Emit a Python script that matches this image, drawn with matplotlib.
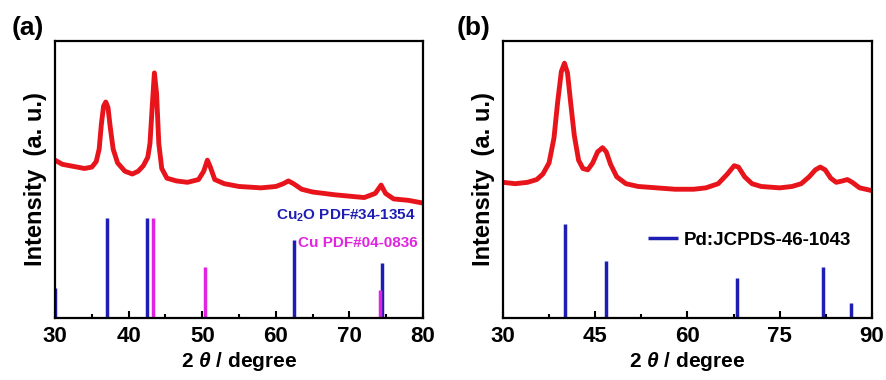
import matplotlib
matplotlib.use('Agg')
import matplotlib.pyplot as plt
from matplotlib.ticker import MultipleLocator

plt.rcParams['font.family'] = ['Liberation Sans', 'DejaVu Sans']
plt.rcParams['font.weight'] = 'bold'
plt.rcParams['mathtext.fontset'] = 'custom'
plt.rcParams['mathtext.bf'] = 'Liberation Sans:bold'
plt.rcParams['mathtext.rm'] = 'Liberation Sans:bold'
plt.rcParams['mathtext.it'] = 'Liberation Sans:bold:italic'

RED = '#e8141c'
BLUE = '#1e1eb4'
MAGENTA = '#e024e0'

# panel (a): measured pattern
a_theta = [30.0, 31.0, 32.0, 33.0, 34.0, 35.0, 35.6, 36.0, 36.3, 36.6, 36.9, 37.2,
           37.5, 37.9, 38.5, 39.5, 40.5, 41.3, 42.0, 42.6, 42.9, 43.2, 43.5, 43.8,
           44.1, 44.5, 45.2, 46.5, 48.0, 49.5, 50.2, 50.7, 51.1, 51.7, 53.0, 55.0,
           58.0, 60.0, 61.0, 61.7, 62.4, 63.5, 65.0, 68.0, 70.0, 72.0, 73.5, 74.3,
           74.9, 76.0, 78.0, 80.0]
a_int = [0.57, 0.555, 0.55, 0.545, 0.54, 0.545, 0.565, 0.61, 0.70, 0.765, 0.78, 0.76,
         0.69, 0.61, 0.56, 0.53, 0.52, 0.53, 0.55, 0.58, 0.63, 0.76, 0.885, 0.81,
         0.63, 0.54, 0.505, 0.495, 0.49, 0.50, 0.53, 0.57, 0.545, 0.50, 0.485, 0.475,
         0.47, 0.475, 0.485, 0.495, 0.485, 0.465, 0.455, 0.445, 0.44, 0.435, 0.45, 0.48,
         0.45, 0.43, 0.425, 0.415]

# reference cards (a)
cu2o_pos = [30.0, 37.0, 42.5, 62.4, 74.4]
cu2o_h = [0.11, 0.36, 0.36, 0.28, 0.20]
cu_pos = [43.3, 50.4, 74.1]
cu_h = [0.36, 0.185, 0.10]

# panel (b): measured pattern
b_theta = [30, 32, 34, 35.5, 36.5, 37.5, 38.3, 38.9, 39.5, 40.0, 40.5, 41.0, 41.6,
           42.3, 43.0, 43.8, 44.6, 45.4, 46.2, 46.8, 47.5, 48.5, 50, 52, 55, 58, 61,
           63, 65, 66.5, 67.6, 68.3, 69.3, 70.5, 72, 75, 77, 78.5, 79.8, 80.8, 81.6,
           82.4, 83.3, 84.2, 85.2, 86.0, 86.8, 88, 90]
b_int = [0.49, 0.485, 0.49, 0.50, 0.52, 0.56, 0.65, 0.78, 0.89, 0.92, 0.885, 0.78, 0.66,
         0.57, 0.54, 0.535, 0.56, 0.60, 0.615, 0.60, 0.555, 0.51, 0.485, 0.475, 0.47,
         0.465, 0.465, 0.47, 0.485, 0.52, 0.55, 0.545, 0.51, 0.485, 0.475, 0.47, 0.475,
         0.485, 0.51, 0.535, 0.545, 0.535, 0.505, 0.49, 0.495, 0.50, 0.49, 0.47, 0.46]

# reference card (b)
pd_pos = [40.1, 46.7, 68.1, 82.1, 86.6]
pd_h = [0.34, 0.205, 0.145, 0.185, 0.055]

fig = plt.figure(figsize=(8.87, 3.80), dpi=100)
ax1 = fig.add_axes([0.062, 0.163, 0.415, 0.729])
ax2 = fig.add_axes([0.567, 0.163, 0.416, 0.729])


def style(ax, xmin, xmax, major):
    ax.set_xlim(xmin, xmax)
    ax.set_ylim(0, 1)
    ax.xaxis.set_major_locator(MultipleLocator(major))
    ax.xaxis.set_minor_locator(MultipleLocator(major / 2))
    ax.tick_params(axis='x', which='both', direction='in', top=False, labelsize=16, pad=6)
    ax.tick_params(axis='x', which='major', length=5, width=1.5)
    ax.tick_params(axis='x', which='minor', length=3, width=1.5)
    ax.set_yticks([])
    for sp in ax.spines.values():
        sp.set_linewidth(1.6)
    ax.set_xlabel(r'2 $\mathit{\theta}$ / degree', fontsize=15, fontweight='bold', labelpad=2)
    ax.set_ylabel('Intensity  (a. u.)', fontsize=17, fontweight='bold', labelpad=6)


ax1.plot(a_theta, a_int, color=RED, lw=3.5)
ax1.vlines(cu2o_pos, 0, cu2o_h, color=BLUE, lw=2.5)
ax1.vlines(cu_pos, 0, cu_h, color=MAGENTA, lw=2.5)
style(ax1, 30, 80, 10)
ax1.text(0.98, 0.37, r'Cu$_\mathbf{2}$O PDF#34-1354', transform=ax1.transAxes,
         color=BLUE, fontsize=11, fontweight='bold', ha='right', va='center')
ax1.text(0.985, 0.27, 'Cu PDF#04-0836', transform=ax1.transAxes,
         color=MAGENTA, fontsize=11, fontweight='bold', ha='right', va='center')

ax2.plot(b_theta, b_int, color=RED, lw=3.5)
ax2.vlines(pd_pos, 0, pd_h, color=BLUE, lw=2.5, label='Pd:JCPDS-46-1043')
style(ax2, 30, 90, 15)
ax2.legend(loc='center right', bbox_to_anchor=(0.99, 0.28), frameon=False,
           prop={'size': 13.5, 'weight': 'bold'}, handlelength=1.6, handletextpad=0.3)

fig.text(0.013, 0.925, '(a)', fontsize=19, fontweight='bold', va='center')
fig.text(0.515, 0.925, '(b)', fontsize=19, fontweight='bold', va='center')

fig.savefig('out.png', dpi=100)
